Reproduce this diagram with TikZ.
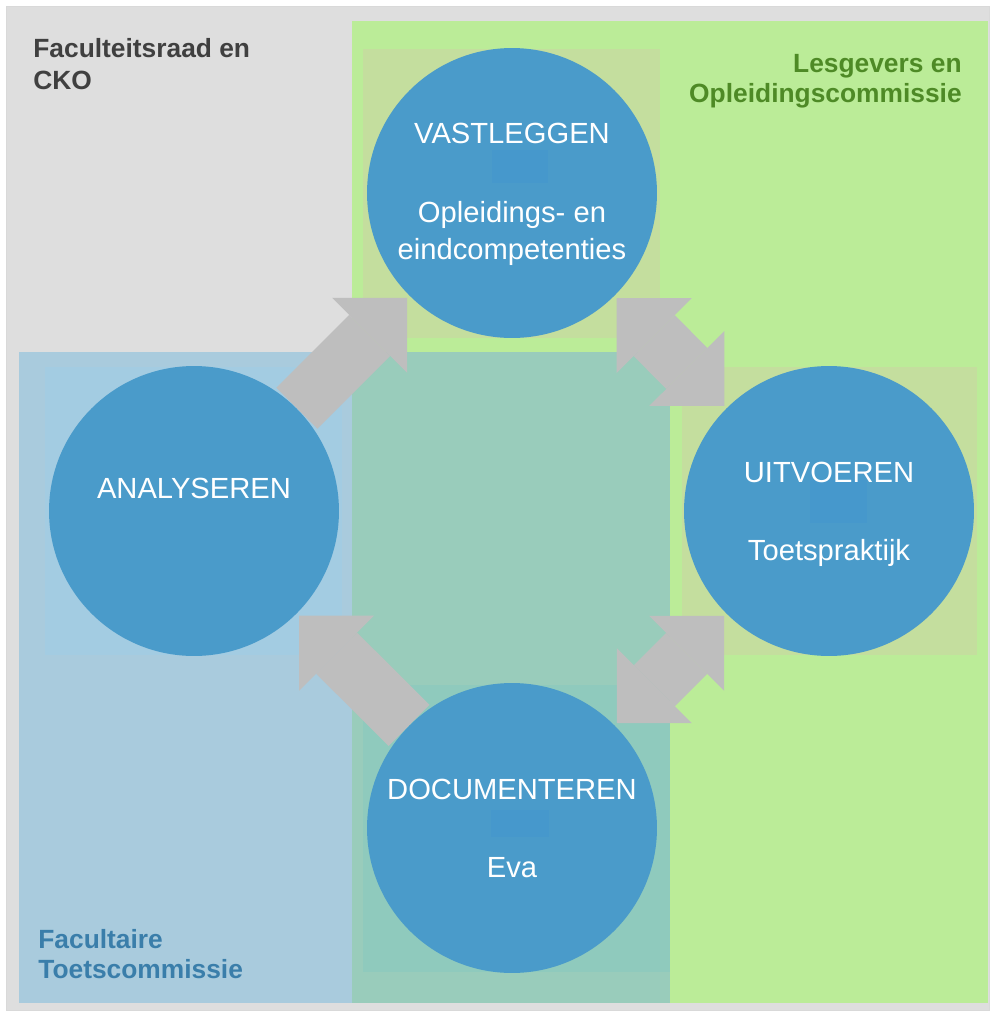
\documentclass[tikz,border=0pt]{standalone}
\usepackage{fontspec}
\setmainfont{Liberation Sans}
\usetikzlibrary{arrows.meta}
\pgfdeclarelayer{back}
\pgfsetlayers{back,main}
\definecolor{boardgrey}{HTML}{DEDEDE}
\definecolor{teachgreen}{HTML}{BBEC98}
\definecolor{testblue}{HTML}{A9CBDD}
\definecolor{overlapteal}{HTML}{99CCBB}
\definecolor{padblue}{HTML}{A3CCE2}
\definecolor{padolive}{HTML}{C4DE9E}
\definecolor{padteal}{HTML}{8FCABD}
\definecolor{phaseblue}{HTML}{4A9BCA}
\definecolor{markblue}{HTML}{4698CC}
\definecolor{flowgrey}{HTML}{BEBEBE}
\definecolor{boardtext}{HTML}{404040}
\definecolor{teachtext}{HTML}{4E8A26}
\definecolor{testtext}{HTML}{3A7EAA}

\begin{document}
\begin{tikzpicture}
  [x=0.02cm,y=-0.02cm,
   phase/.style={circle, fill=phaseblue, minimum size=5.8cm, inner sep=0pt},
   caption/.style={text=white, anchor=base, inner sep=0pt, font=\fontsize{16.6}{22}\selectfont},
   group/.style={anchor=base west, inner sep=0pt, font=\bfseries\fontsize{15}{18}\selectfont},
   flow/.style={draw=flowgrey, line width=1.16cm, shorten >=0.06cm,
     -{Triangle[length=1.06cm, width=2.12cm, line width=0pt]}},
   flowboth/.style={flow, shorten <=0.06cm,
     {Triangle[length=1.06cm, width=2.12cm, line width=0pt]}-{Triangle[length=1.06cm, width=2.12cm, line width=0pt]}}]
  \useasboundingbox (0,0) rectangle (990,1012);
  \begin{pgfonlayer}{back}
    \fill[white] (0,0) rectangle (990,1012);
    \filldraw[fill=boardgrey, draw=black!15] (6,6) rectangle (989,1010);
    \fill[teachgreen] (352,21) rectangle (988,1003);
    \fill[testblue] (19,352) rectangle (670,1003);
    \fill[overlapteal] (352,352) rectangle (670,1003);
    \fill[padblue] (45,367) rectangle (342,655);
    \fill[padolive] (363,49) rectangle (660,338);
    \fill[padolive] (682,367) rectangle (977,655);
    \fill[padteal] (363,685) rectangle (670,972);
  \end{pgfonlayer}

  \node[phase] (vast) at (512,193) {};
  \node[phase] (ana)  at (194,511) {};
  \node[phase] (uitv) at (829,511) {};
  \node[phase] (doc)  at (512,828) {};

  \fill[markblue] (492,150) rectangle (548,183);
  \fill[markblue] (810,480) rectangle (867,523);
  \fill[markblue] (491,810) rectangle (549,837);

  \begin{pgfonlayer}{back}
    \foreach \from/\to in {ana/vast,doc/ana}
      \draw[flow] (\from) -- (\to);
    \foreach \from/\to in {vast/uitv,uitv/doc}
      \draw[flowboth] (\from) -- (\to);
  \end{pgfonlayer}

  \node[caption] (vastA) at (512,143) {VASTLEGGEN};
  \node[caption] (vastB) at (512,222) {Opleidings- en};
  \node[caption] (vastC) at (512,259) {eindcompetenties};
  \node[caption] (anaA)  at (194,498) {ANALYSEREN};
  \node[caption] (uitvA) at (829,482) {UITVOEREN};
  \node[caption] (uitvB) at (829,560) {Toetspraktijk};
  \node[caption] (docA)  at (512,799) {DOCUMENTEREN};
  \node[caption] (docB)  at (512,877) {Eva};

  \node[group, text=boardtext] (board1) at (33,57) {Faculteitsraad en};
  \node[group, text=boardtext] (board2) at (33,89) {CKO};
  \node[group, text=teachtext, anchor=base east] (teach1) at (962,72) {Lesgevers en};
  \node[group, text=teachtext, anchor=base east] (teach2) at (962,102) {Opleidingscommissie};
  \node[group, text=testtext] (test1) at (38,948) {Facultaire};
  \node[group, text=testtext] (test2) at (38,978) {Toetscommissie};
\end{tikzpicture}
\end{document}
